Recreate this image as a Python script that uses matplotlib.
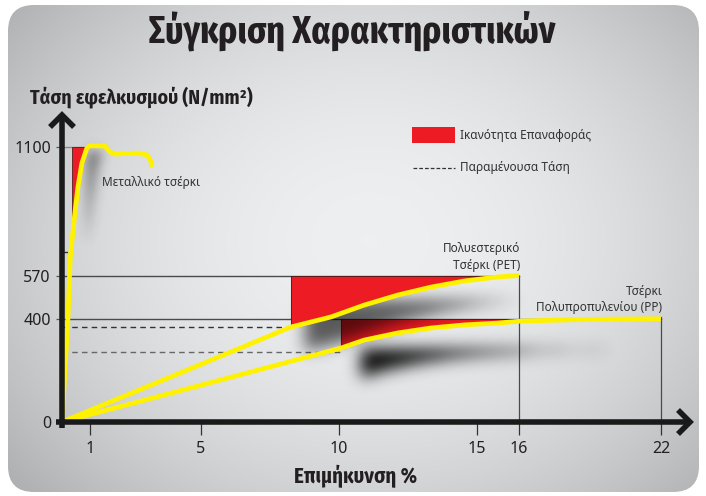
import numpy as np
import matplotlib
matplotlib.use('Agg')
import matplotlib.pyplot as plt
from matplotlib import font_manager
from matplotlib.patches import FancyBboxPatch, Rectangle
from matplotlib.path import Path
from matplotlib.lines import Line2D

# ---- data ----
x_ticks = [1, 5, 10, 15, 16, 22]
y_ticks = [0, 400, 570, 1100]

metal_x = [0, 0.21, 0.29, 0.37, 0.46, 0.57, 0.71, 0.89, 1.0, 1.54, 1.71, 1.89, 2.71, 3.07, 3.21, 3.21]
metal_y = [0, 396, 636, 730, 829, 936, 1034, 1096, 1105, 1104, 1080, 1071, 1075, 1067, 1038, 1018]
pet_x = [0, 8.26, 9.71, 10.91, 12.14, 13.33, 14.53, 15.48, 16]
pet_y = [0, 369, 408, 455, 495, 526, 550, 566, 572]
pp_x = [0, 10.07, 10.91, 12.14, 13.33, 14.53, 15.48, 16.1, 17.86, 19.3, 22]
pp_y = [0, 287, 318, 346, 365, 377, 384, 392, 396, 399, 401]

metal_peak, pet_peak, pp_peak = 1100, 570, 400
metal_residual, pet_residual, pp_residual = 670, 368, 273
metal_from, pet_from, pp_from = 0.36, 8.26, 10.07
pet_end, pp_end = 16, 22

title = 'Σύγκριση Χαρακτηριστικών'
ylabel = 'Τάση εφελκυσμού (N/mm²)'
xlabel = 'Επιμήκυνση %'
legend_labels = ['Ικανότητα Επαναφοράς', 'Παραμένουσα Τάση']

# axis scale knots (value -> pixel offset from origin), axis is not uniform
x_knots = [0, 1, 5, 10, 15, 16, 22, 30]
x_knot_px = [0, 28, 139, 277, 415, 457, 599, 788]
y_knots = [0, 400, 570, 1100, 1600]
y_knot_px = [0, 103, 146, 275, 397]

RED = '#ED1C24'
YELLOW = '#FFF200'
INK = '#231f20'

plt.rcParams['font.family'] = ['Noto Sans', 'DejaVu Sans']

names = {f.name for f in font_manager.fontManager.ttflist}


def first_font(cands):
    for c in cands:
        if c in names:
            return c
    return 'DejaVu Sans'


TITLE_FONT = first_font(['Fira Sans Extra Condensed', 'Roboto Condensed', 'Fira Sans Condensed'])
LABEL_FONT = first_font(['Fira Sans Condensed', 'Roboto Condensed', 'Fira Sans Extra Condensed'])

W, H = 706, 496
fig = plt.figure(figsize=(W / 100, H / 100), dpi=100, facecolor='white')


def fx(px):
    return px / W


def fy(py):
    return 1 - py / H


# ---- background panel with soft gradient ----
bg = fig.add_axes([0, 0, 1, 1], zorder=-1)
bg.set_xlim(0, W)
bg.set_ylim(H, 0)
bg.axis('off')
yy, xx = np.mgrid[0:H, 0:W]
r2 = ((xx - 370) / 400.0) ** 2 + ((yy - 240) / 320.0) ** 2
val = np.clip(238 - 46 * r2, 170, 240) / 255.0
grad = np.dstack([val, val + 0.004, val + 0.012])
grad = np.clip(grad, 0, 1)
panel = FancyBboxPatch((8, 5), 691, 487, boxstyle='round,pad=0,rounding_size=26',
                       facecolor='none', edgecolor='none')
bg.add_patch(panel)
im = bg.imshow(grad, extent=(0, W, H, 0), aspect='auto', interpolation='bilinear')
im.set_clip_path(panel)

# ---- main axes ----
ax_l, ax_r, ax_t, ax_b = 62, 690, 115, 422
ax = fig.add_axes([fx(ax_l), fy(ax_b), (ax_r - ax_l) / W, (ax_b - ax_t) / H])
ax.patch.set_visible(False)
for s in ax.spines.values():
    s.set_visible(False)


def xf(v):
    return np.interp(v, x_knots, x_knot_px)


def xi(p):
    return np.interp(p, x_knot_px, x_knots)


def yf(v):
    return np.interp(v, y_knots, y_knot_px)


def yi(p):
    return np.interp(p, y_knot_px, y_knots)


ax.set_xscale('function', functions=(xf, xi))
ax.set_yscale('function', functions=(yf, yi))
ax.set_xlim(0, xi(ax_r - ax_l))
ax.set_ylim(0, yi(ax_b - ax_t))

# ---- blurred drop shadows ----
AW, AH = int(round(ax.bbox.width)), int(round(ax.bbox.height))
gx, gy = np.meshgrid(ax.bbox.x0 + np.arange(AW) + 0.5, ax.bbox.y0 + np.arange(AH) + 0.5)
grid_pts = np.column_stack([gx.ravel(), gy.ravel()])


def blur(a, s):
    k = np.exp(-0.5 * (np.arange(-3 * s, 3 * s + 1) / s) ** 2)
    k /= k.sum()
    a = np.apply_along_axis(lambda r: np.convolve(r, k, 'same'), 1, a)
    a = np.apply_along_axis(lambda c: np.convolve(c, k, 'same'), 0, a)
    return a


def shadow(verts, dx, dy, sigma, strength, z):
    disp = ax.transData.transform(verts) + np.array([dx, -dy])
    mask = Path(disp).contains_points(grid_pts).reshape(AH, AW).astype(float)
    mask = blur(mask, sigma)
    rgba = np.zeros((AH, AW, 4))
    rgba[..., 3] = np.clip(mask * strength, 0, 1)
    ax.imshow(rgba, extent=(0, 1, 0, 1), transform=ax.transAxes, origin='lower',
              aspect='auto', interpolation='bilinear', zorder=z)


metal_x_a, metal_y_a = np.array(metal_x), np.array(metal_y)
pet_x_a, pet_y_a = np.array(pet_x), np.array(pet_y)
pp_x_a, pp_y_a = np.array(pp_x), np.array(pp_y)

m_sel = (metal_y_a >= 730) & (metal_x_a <= 1.0)
metal_poly = [(metal_from, v) for v in [metal_peak, metal_y_a[m_sel][0]]] + \
    list(zip(metal_x_a[m_sel], np.minimum(metal_y_a[m_sel], metal_peak)))
pet_poly = list(zip(pet_x_a[1:], pet_y_a[1:])) + [(pet_end, pet_peak), (pet_from, pet_peak)]
pp_poly = list(zip(pp_x_a[1:], np.minimum(pp_y_a[1:], pp_peak))) + [(pp_end, pp_peak), (pp_from, pp_peak)]

shadow(metal_poly, 15, 4, 6, 0.5, 1)
shadow(pp_poly, 20, 30, 8, 1.0, 1.5)
shadow(pet_poly, 14, 24, 8, 0.62, 2.5)

ax.set_xlim(0, xi(ax_r - ax_l))
ax.set_ylim(0, yi(ax_b - ax_t))

# ---- reference lines ----
ax.plot([0, 1.0], [metal_peak, metal_peak], color='#8a8a8a', lw=1, zorder=1)
ax.plot([0, pet_end], [pet_peak, pet_peak], color='#4a4a4a', lw=1, zorder=1)
ax.plot([0, pp_end], [pp_peak, pp_peak], color='#4a4a4a', lw=1, zorder=1)
ax.plot([pet_end, pet_end], [0, pet_peak], color='#4a4a4a', lw=0.9, zorder=1)
ax.plot([pp_end, pp_end], [0, pp_peak + 6], color='#4a4a4a', lw=0.9, zorder=1)
ax.plot([0, pet_from], [pet_residual, pet_residual], color='#333333', lw=1, ls=(0, (4, 3)), zorder=1)
ax.plot([0, pp_from], [pp_residual, pp_residual], color='#666666', lw=1, ls=(0, (4, 3)), zorder=1)
ax.plot([0, 0.3], [metal_residual, metal_residual], color='#333333', lw=1, ls=(0, (4, 3)), zorder=1)

# ---- recovery areas ----
ax.fill_betweenx(np.minimum(metal_y_a[m_sel], metal_peak), metal_from, metal_x_a[m_sel],
                 color=RED, ec='#5a1a1a', lw=0.6, zorder=2)
ax.fill_between(pp_x_a[1:], np.minimum(pp_y_a[1:], pp_peak), pp_peak,
                color=RED, ec='#5a1a1a', lw=0.7, zorder=2)
ax.fill_between(pet_x_a[1:], pet_y_a[1:], pet_peak,
                color=RED, ec='#5a1a1a', lw=0.7, zorder=3)

# ---- yellow curves ----
for cx, cy in [(metal_x, metal_y), (pet_x, pet_y), (pp_x, pp_y)]:
    ax.plot(cx, cy, color=YELLOW, lw=3.4, solid_joinstyle='round',
            solid_capstyle='butt', zorder=5)

# ---- ticks ----
ax.set_xticks(x_ticks)
ax.set_xticklabels([str(t) for t in x_ticks])
ax.set_yticks(y_ticks)
ax.set_yticklabels([str(t) for t in y_ticks])
ax.tick_params(axis='x', length=9, width=0.9, color='#333333', pad=5,
               labelsize=11.5, labelcolor=INK)
ax.tick_params(axis='y', length=4, width=0.9, color='#555555', pad=4,
               labelsize=11.5, labelcolor=INK)
ax.minorticks_off()

# ---- thick axis arrows ----
aw, ah = ax_r - ax_l, ax_b - ax_t
axis_kw = dict(color='#1a1a1a', lw=4, transform=ax.transAxes, clip_on=False,
               zorder=6, solid_joinstyle='miter', solid_capstyle='butt')
ax.add_line(Line2D([0, 0], [-6 / ah, 1 - 2 / ah], **axis_kw))
ax.add_line(Line2D([-6 / aw, 1 - 2 / aw], [0, 0], **axis_kw))
ax.add_line(Line2D([-12 / aw, 0, 12 / aw], [1 - 12 / ah, 1, 1 - 12 / ah], **axis_kw))
ax.add_line(Line2D([1 - 12 / aw, 1, 1 - 12 / aw], [12 / ah, 0, -12 / ah], **axis_kw))

# ---- texts ----
fig.text(fx(352), fy(31), title, ha='center', va='center', family=TITLE_FONT,
         fontsize=28, fontweight='bold', color=INK)
fig.text(fx(30), fy(97), ylabel, ha='left', va='center', family=LABEL_FONT,
         fontsize=14.2, fontweight='bold', color=INK)
fig.text(fx(356), fy(476), xlabel, ha='center', va='center', family=LABEL_FONT,
         fontsize=15, fontweight='bold', color=INK)

ax.text(1.43, 955, 'Μεταλλικό τσέρκι', ha='left', va='center', fontsize=8.5, color='#333333')
ax.text(16.05, 588, 'Πολυεστερικό\nΤσέρκι (PET)', ha='right', va='bottom',
        fontsize=8.5, color='#333333', linespacing=1.35)
ax.text(22.05, 418, 'Τσέρκι\nΠολυπροπυλενίου (PP)', ha='right', va='bottom',
        fontsize=8.5, color='#333333', linespacing=1.35)

# ---- legend ----
fig.patches.append(Rectangle((fx(412), fy(143)), fx(455) - fx(412), fy(127) - fy(143),
                             transform=fig.transFigure, facecolor=RED, edgecolor='none'))
fig.text(fx(460), fy(135), legend_labels[0], ha='left', va='center', fontsize=8.5, color='#333333')
fig.lines.append(Line2D([fx(413), fx(455)], [fy(168), fy(168)], transform=fig.transFigure,
                        color='#333333', lw=0.9, ls=(0, (3, 1.6))))
fig.text(fx(460), fy(168), legend_labels[1], ha='left', va='center', fontsize=8.5, color='#333333')

fig.savefig('out.png', dpi=100, facecolor='white')
